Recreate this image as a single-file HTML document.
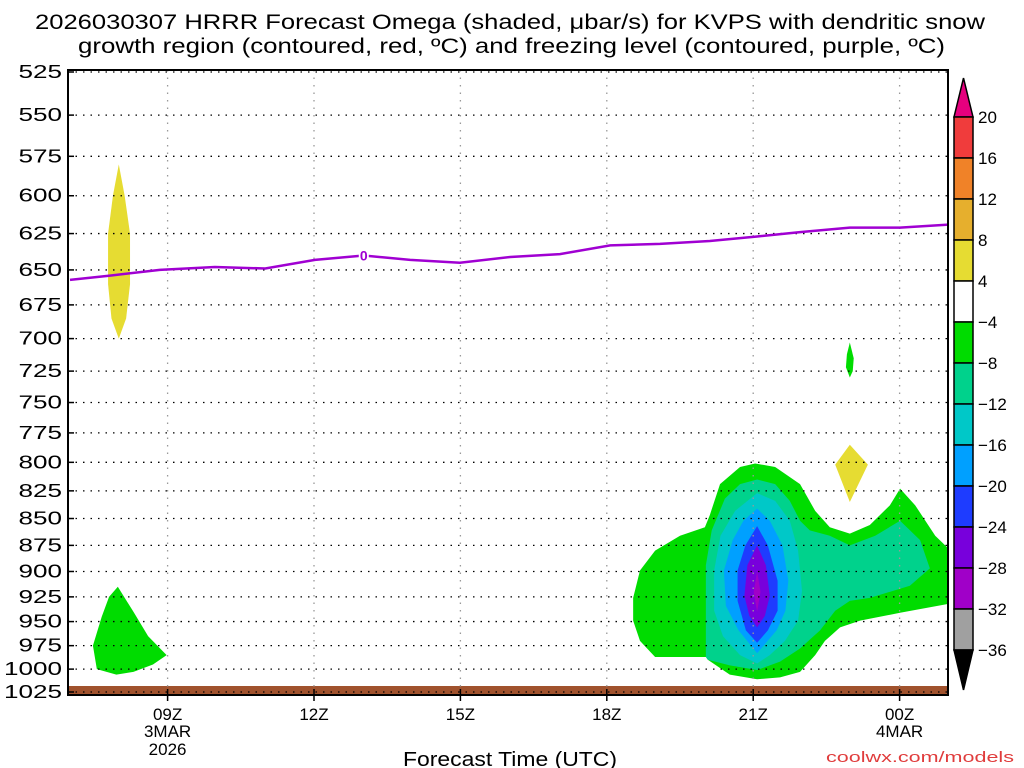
<!DOCTYPE html>
<html><head><meta charset="utf-8"><style>
html,body{margin:0;padding:0;background:#fff;}
svg{display:block;font-family:"Liberation Sans",sans-serif;}
</style></head><body>
<svg id="chart" width="1024" height="768" viewBox="0 0 1024 768" xmlns="http://www.w3.org/2000/svg">
<text x="35" y="29" font-size="21" textLength="950" lengthAdjust="spacingAndGlyphs">2026030307 HRRR Forecast Omega (shaded, μbar/s) for KVPS with dendritic snow</text>
<text x="78" y="53" font-size="21" textLength="867" lengthAdjust="spacingAndGlyphs">growth region (contoured, red, ºC) and freezing level (contoured, purple, ºC)</text>
<g id="plot"></g>
<g id="cbar"></g>
<text x="403" y="766" font-size="20" textLength="214" lengthAdjust="spacingAndGlyphs">Forecast Time (UTC)</text>
<text x="826" y="762" font-size="15" fill="#e03c3c" textLength="188" lengthAdjust="spacingAndGlyphs">coolwx.com/models</text>
</svg>
<script>
const pressureTicks=[525,550,575,600,625,650,675,700,725,750,775,800,825,850,875,900,925,950,975,1000,1025];
const timeTicks=[9,12,15,18,21,24];
const timeLabels=["09Z","12Z","15Z","18Z","21Z","00Z"];
const timeSubLabels=[["3MAR","2026"],[],[],[],[],["4MAR"]];
const freezingLevel=[[7,657],[7.82,654],[8.84,650],[9.97,648],[11,649],[12.02,643],[13.02,640],[13.97,643],[14.99,645],[16.02,641],[17.04,639],[18.07,633],[19.09,632],[20.11,630],[21.08,627],[21.96,624],[22.98,621],[24.01,621],[25,619]];
const omegaGreenMain=[[18.54,926],[18.68,899],[18.99,880],[19.5,866],[20.01,858],[20.11,847],[20.32,819],[20.73,804],[21.04,801],[21.45,804],[21.96,819],[22.27,843],[22.57,858],[22.98,864],[23.39,856],[23.8,838],[24.01,823],[24.32,838],[24.73,866],[25,878],[25,932],[24.01,941],[23.19,949],[22.78,956],[22.47,970],[22.27,985],[21.96,1003],[21.55,1009],[21.08,1011],[20.52,1006],[20.07,990],[20.03,987],[18.99,987],[18.68,970],[18.54,949]];
const omegaTeal=[[20.03,987],[20.03,894],[20.15,861],[20.42,832],[20.73,819],[21.08,815],[21.45,819],[21.75,834],[21.96,852],[22.16,861],[22.57,866],[22.98,875],[23.5,866],[24.01,852],[24.42,870],[24.62,897],[24.21,914],[23.39,926],[22.98,929],[22.68,939],[22.37,959],[21.96,978],[21.55,992],[21.08,1001],[20.52,996],[20.07,990]];
const omegaCyan=[[21.08,827],[21.45,834],[21.75,852],[21.92,880],[22.0,919],[21.92,949],[21.65,970],[21.34,985],[21.08,994],[20.73,985],[20.38,965],[20.2,939],[20.2,899],[20.33,866],[20.63,843]];
const omegaLightBlue=[[21.08,841],[21.34,852],[21.6,875],[21.72,909],[21.66,939],[21.48,959],[21.08,983],[20.7,959],[20.44,934],[20.4,899],[20.58,870],[20.8,852]];
const omegaBlue=[[21.08,857],[21.3,875],[21.5,909],[21.5,939],[21.3,959],[21.08,972],[20.85,959],[20.68,929],[20.68,899],[20.84,875]];
const omegaPurple=[[21.08,875],[21.26,894],[21.34,924],[21.24,944],[21.08,956],[20.92,944],[20.82,924],[20.88,894]];
const omegaMagenta=[[21.08,900],[21.15,920],[21.08,940],[21.01,920]];
const omegaYellowLeft=[[8.0,580],[8.12,600],[8.23,625],[8.23,660],[8.15,685],[8.0,700],[7.85,685],[7.78,660],[7.78,625],[7.88,600]];
const omegaGreenLeft=[[7.98,915],[8.3,940],[8.6,965],[8.98,985],[8.7,995],[8.3,1003],[7.95,1006],[7.55,1000],[7.47,975],[7.65,945],[7.8,925]];
const omegaGreenSmall=[[22.98,703],[23.06,715],[23.04,725],[22.98,730],[22.9,722],[22.92,712]];
const omegaYellowRight=[[22.98,785],[23.35,802],[22.98,835],[22.68,802]];
const cbarLevels=["20","16","12","8","4","−4","−8","−12","−16","−20","−24","−28","−32","−36"];
const cbarColors=["#f03c3c","#f08228","#e6af2d","#e6dc32","#ffffff","#00dc00","#00d28c","#00c8c8","#00a0ff","#1e3cff","#7800dc","#a000c8","#a0a0a0"];

const NS="http://www.w3.org/2000/svg";
const X0=70,XH=48.8,T0=7,Y0=72,YH=620,P0=525,P1=1025;
const xs=t=>X0+(t-T0)*XH;
const ys=p=>Y0+YH*Math.log(p/P0)/Math.log(P1/P0);
function mk(tag,attrs,parent){const e=document.createElementNS(NS,tag);for(const k in attrs)e.setAttribute(k,attrs[k]);parent.appendChild(e);return e;}
const plot=document.getElementById('plot');
function poly(arr,fill,name){const e=mk('polygon',{points:arr.map(d=>xs(d[0])+','+ys(d[1])).join(' '),fill:fill},plot);

}
poly(omegaYellowLeft,"#e6dc32","omega-yellow-left");
poly(omegaGreenLeft,"#00dc00","omega-green-left");
poly(omegaGreenSmall,"#00dc00","omega-green-small");
poly(omegaYellowRight,"#e6dc32","omega-yellow-right");
poly(omegaGreenMain,"#00dc00","omega-green-main");
poly(omegaTeal,"#00d28c","omega-teal");
poly(omegaCyan,"#00c8c8","omega-cyan");
poly(omegaLightBlue,"#00a0ff","omega-lightblue");
poly(omegaBlue,"#1e3cff","omega-blue");
poly(omegaPurple,"#7800dc","omega-purple");
poly(omegaMagenta,"#a000c8","omega-magenta");
const g=mk('rect',{x:68,y:686,width:880,height:9,fill:"#a0522d"},plot);


pressureTicks.forEach(p=>{const y=ys(p);
 const l=mk('line',{x1:68,x2:948,y1:y,y2:y,stroke:"#000","stroke-width":1.3,"stroke-dasharray":"1.5 6"},plot);
 
 
 const tk=mk('line',{x1:68,x2:74,y1:y,y2:y,stroke:"#000","stroke-width":1.5},plot);
 
 
 const tx=mk('text',{x:62,y:y+6,"font-size":18,"text-anchor":"end",textLength:String(p).length*14.5,lengthAdjust:"spacingAndGlyphs"},plot);tx.textContent=p;
 
 
});
timeTicks.forEach((t,i)=>{const x=xs(t);
 const l=mk('line',{x1:x,x2:x,y1:70,y2:695,stroke:"#999","stroke-width":1.3,"stroke-dasharray":"1.5 6"},plot);
 
 
 const tk=mk('line',{x1:x,x2:x,y1:689,y2:701,stroke:"#000","stroke-width":1.5},plot);
 
 
 const tx=mk('text',{x:x,y:720,"font-size":17,"text-anchor":"middle"},plot);tx.textContent=timeLabels[i];
 
 
 timeSubLabels[i].forEach((s,j)=>{const st=mk('text',{x:x,y:737+j*18,"font-size":17,"text-anchor":"middle"},plot);st.textContent=s;
  
  });
});
const fl=mk('polyline',{points:freezingLevel.map(d=>xs(d[0])+','+ys(d[1])).join(' '),fill:"none",stroke:"#a000d2","stroke-width":2.5},plot);


const lb=freezingLevel[6];
const lbr=mk('rect',{x:xs(lb[0])-5,y:ys(lb[1])-7,width:10,height:14,fill:"#fff"},plot);


const lbt=mk('text',{x:xs(lb[0]),y:ys(lb[1])+5,"font-size":14,"font-weight":"bold",fill:"#a000d2","text-anchor":"middle"},plot);lbt.textContent="0";


const fr=mk('rect',{x:68,y:70,width:880,height:625,fill:"none",stroke:"#000","stroke-width":2},plot);


const cb=document.getElementById('cbar');
const CX=954,CW=19,CT=117,CS=41;
const ta=mk('polygon',{points:`${CX},${CT} ${CX+CW},${CT} ${CX+CW/2},78`,fill:"#e6007e",stroke:"#000","stroke-width":1.5},cb);


cbarColors.forEach((c,i)=>{const r=mk('rect',{x:CX,y:CT+i*CS,width:CW,height:CS,fill:c,stroke:"#000","stroke-width":1.5},cb);
 
 });
const yb=CT+(cbarColors.length-1)*CS+CS;
const ba=mk('polygon',{points:`${CX},${yb} ${CX+CW},${yb} ${CX+CW/2},690`,fill:"#000",stroke:"#000","stroke-width":1.5},cb);


cbarLevels.forEach((s,i)=>{const t=mk('text',{x:978,y:CT+i*CS+6,"font-size":17},cb);t.textContent=s;
 
 });
</script>
</body></html>
